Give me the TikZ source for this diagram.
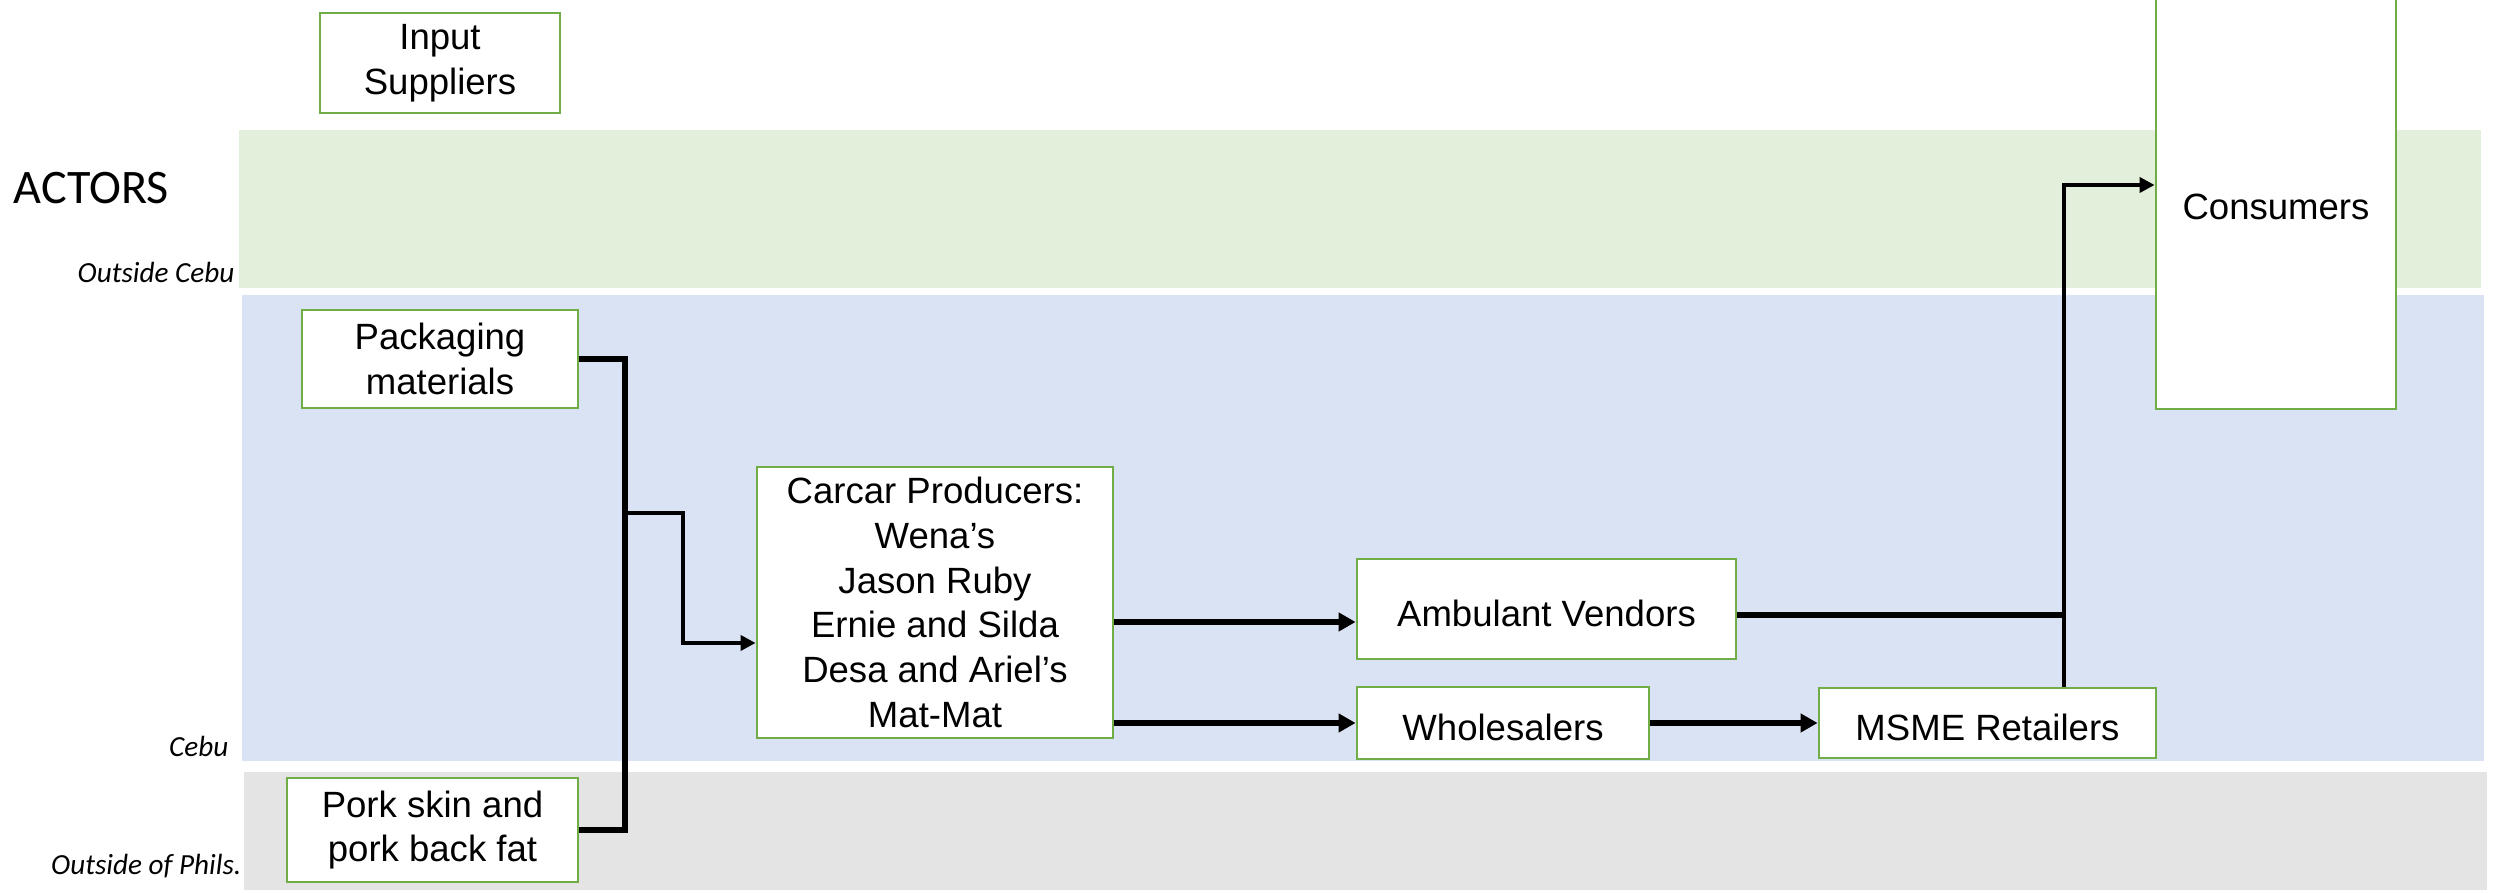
\documentclass[tikz,border=0pt]{standalone}
\usepackage{fontspec}
\setmainfont{Liberation Sans}
\newfontfamily\calibri{Carlito}
\usetikzlibrary{arrows.meta}
\definecolor{actgreen}{HTML}{70AD47}
\definecolor{bandgreen}{HTML}{E2EFDA}
\definecolor{bandblue}{HTML}{DAE3F3}
\definecolor{bandgrey}{HTML}{E4E4E4}
\begin{document}
\begin{tikzpicture}[
		actor/.style={draw=actgreen, line width=0.8pt, fill=white, align=center, inner sep=0pt, font=\fontsize{10.4}{12.7}\selectfont, execute at begin node={\rule{0pt}{3.5mm}}},
		place/.style={anchor=east, inner sep=0pt, font=\calibri\itshape\fontsize{8.3}{10}\selectfont},
		thickline/.style={line width=1.8pt},
		thinline/.style={line width=1.2pt},
		bigtip/.style={-{Triangle[length=1.7mm,width=1.8mm]}},
		smalltip/.style={-{Triangle[length=1.5mm,width=1.5mm]}}]
			\useasboundingbox (0,0) rectangle (24.96,-8.93);
			\fill[bandgreen] (2.39,-1.30) rectangle (24.81,-2.88);
			\fill[bandblue] (2.42,-2.95) rectangle (24.84,-7.61);
			\fill[bandgrey] (2.44,-7.72) rectangle (24.87,-8.90);
			\node[anchor=west, inner sep=0pt, font=\calibri\fontsize{13.7}{16}\selectfont] (actors) at (0.13,-1.88) {ACTORS};
			\node[place] (outcebu) at (2.35,-2.72) {Outside Cebu};
			\node[place] (cebu) at (2.29,-7.46) {Cebu};
			\node[place] (outphil) at (2.42,-8.66) {Outside of Phils.};
			\node[actor, minimum width=2.40cm, minimum height=1.00cm] (supp) at (4.40,-0.63) {Input\\Suppliers};
			\node[actor, minimum width=2.76cm, minimum height=0.98cm] (pack) at (4.40,-3.59) {Packaging\\materials};
			\node[actor, minimum width=2.91cm, minimum height=1.04cm] (pork) at (4.325,-8.30) {Pork skin and\\pork back fat};
			\node[actor, minimum width=3.56cm, minimum height=2.71cm] (carcar) at (9.35,-6.025) {Carcar Producers:\\Wena’s\\Jason Ruby\\Ernie and Silda\\Desa and Ariel’s\\Mat-Mat};
			\node[actor, minimum width=3.79cm, minimum height=1.00cm] (amb) at (15.465,-6.09) {Ambulant Vendors};
			\node[actor, minimum width=2.92cm, minimum height=0.72cm] (whole) at (15.03,-7.23) {Wholesalers};
			\node[actor, minimum width=3.37cm, minimum height=0.70cm] (msme) at (19.875,-7.23) {MSME Retailers};
			\node[actor, minimum width=2.40cm, minimum height=4.18cm] (cons) at (22.76,-2.00) {\raisebox{-0.5mm}{Consumers}};
			\coordinate (bus) at (6.25,-5.13);
			\coordinate (kink) at (6.83,-6.43);
			\coordinate (up) at (20.64,-1.85);
			\draw[thickline] (pack.east) -| (bus) |- (pork.east);
			\draw[thinline, smalltip] (bus) -| (kink) -- (kink -| carcar.west);
			\draw[thickline, bigtip] ([yshift=-1.3mm]carcar.east |- amb.west) -- ([yshift=-1.3mm]amb.west);
			\draw[thickline, bigtip] (carcar.east |- whole.west) -- (whole.west);
			\draw[thickline, bigtip] (whole.east) -- (msme.west);
			\draw[thickline] ([yshift=-0.6mm]amb.east) -- ([yshift=-0.6mm]amb.east -| up);
			\draw[thinline, smalltip] (msme.north -| up) -- (up) -- (up -| cons.west);
		\end{tikzpicture}
\end{document}
